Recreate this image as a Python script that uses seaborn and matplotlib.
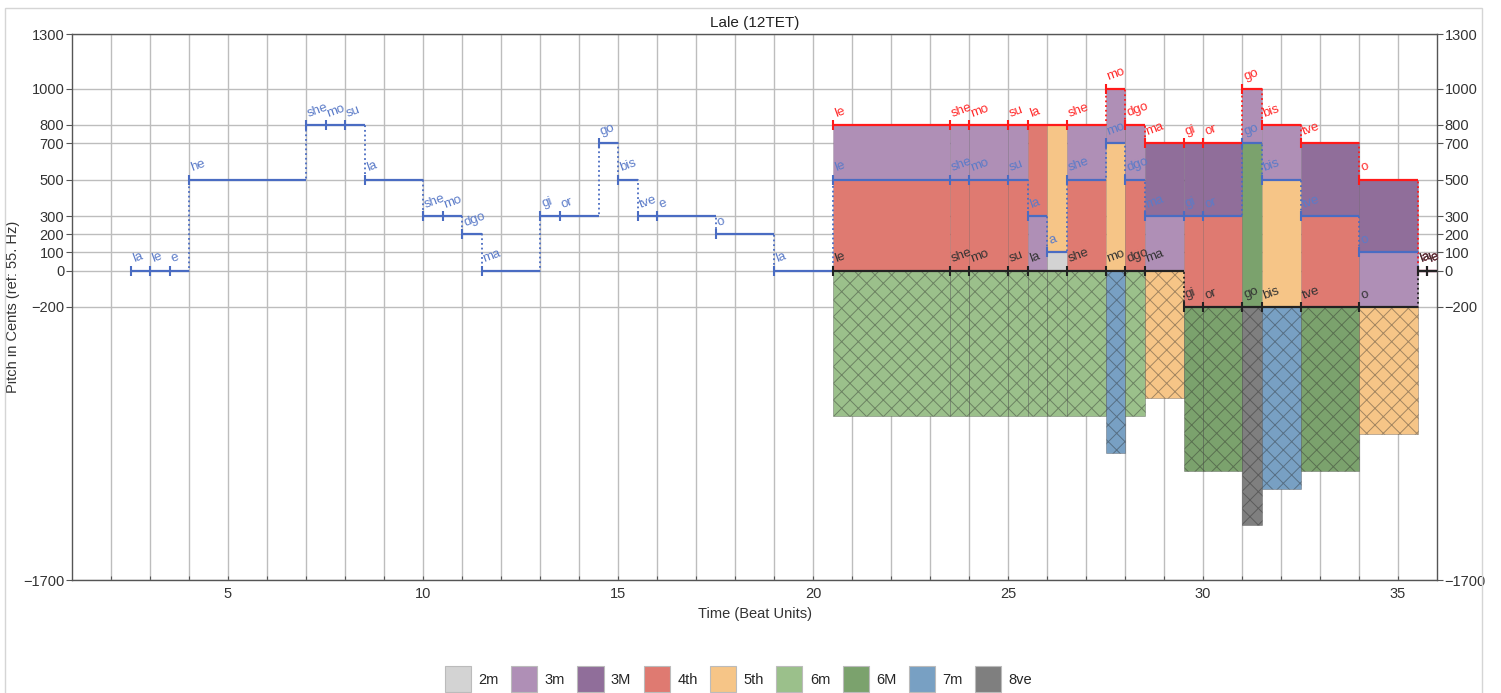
import numpy as np
import matplotlib
matplotlib.use("Agg")
import matplotlib.pyplot as plt
from matplotlib.patches import Patch, Rectangle
import seaborn as sns

# single-voice melody (blue), beats 2.5 - 20.5
mel_syll = ["la", "le", "e", "he", "she", "mo", "su", "la", "she", "mo", "dgo", "ma",
            "gi", "or", "go", "bis", "tve", "e", "o", "la"]
mel_start = [2.5, 3, 3.5, 4, 7, 7.5, 8, 8.5, 10, 10.5, 11, 11.5,
             13, 13.5, 14.5, 15, 15.5, 16, 17.5, 19]
mel_cents = [0, 0, 0, 500, 800, 800, 800, 500, 300, 300, 200, 0,
             300, 300, 700, 500, 300, 300, 200, 0]

# three voices from beat 20.5
top_syll = ["le", "she", "mo", "su", "la", "she", "mo", "dgo", "ma", "gi", "or",
            "go", "bis", "tve", "o", "la", "le"]
top_start = [20.5, 23.5, 24, 25, 25.5, 26.5, 27.5, 28, 28.5, 29.5, 30,
             31, 31.5, 32.5, 34, 35.5, 35.75]
top_cents = [800, 800, 800, 800, 800, 800, 1000, 800, 700, 700, 700,
             1000, 800, 700, 500, 0, 0]

mid_syll = ["le", "she", "mo", "su", "la", "a", "she", "mo", "dgo", "ma", "gi", "or",
            "go", "bis", "tve", "o", "la", "le"]
mid_start = [20.5, 23.5, 24, 25, 25.5, 26, 26.5, 27.5, 28, 28.5, 29.5, 30,
             31, 31.5, 32.5, 34, 35.5, 35.75]
mid_cents = [500, 500, 500, 500, 300, 100, 500, 700, 500, 300, 300, 300,
             700, 500, 300, 100, 0, 0]

low_syll = ["le", "she", "mo", "su", "la", "she", "mo", "dgo", "ma", "gi", "or",
            "go", "bis", "tve", "o", "la", "le"]
low_start = [20.5, 23.5, 24, 25, 25.5, 26.5, 27.5, 28, 28.5, 29.5, 30,
             31, 31.5, 32.5, 34, 35.5, 35.75]
low_cents = [0, 0, 0, 0, 0, 0, 0, 0, 0, -200, -200,
             -200, -200, -200, -200, 0, 0]

end_time = 36

interval_names = ["2m", "3m", "3M", "4th", "5th", "6m", "6M", "7m", "8ve"]
interval_cents = [100, 300, 400, 500, 700, 800, 900, 1000, 1200]
interval_colors = ["#d3d3d3", "#af8fb6", "#906e9a", "#df7a71", "#f6c587",
                   "#9bc08b", "#7ba26d", "#78a0c3", "#7f7f7f"]

y_ticks = [-1700, -200, 0, 100, 200, 300, 500, 700, 800, 1000, 1300]

sns.set_style("white")
plt.rcParams['font.family'] = ['Liberation Sans', 'DejaVu Sans']
plt.rcParams['hatch.linewidth'] = 0.7

W, H = 1501, 693
fig = plt.figure(figsize=(W / 100, H / 100), dpi=100)
ax = fig.add_axes([72 / W, 1 - 580 / H, (1437 - 72) / W, (580 - 34) / H])

col_of = dict(zip(interval_cents, interval_colors))


def pitch_at(starts, cents, t):
    i = np.searchsorted(starts, t, side='right') - 1
    return cents[i]


# interval fills between the voices (hatched = outer interval, drawn downward)
bounds = sorted(set(top_start) | set(mid_start) | set(low_start)) + [end_time]
for b0, b1 in zip(bounds[:-1], bounds[1:]):
    tp = pitch_at(top_start, top_cents, b0)
    mp = pitch_at(mid_start, mid_cents, b0)
    lp = pitch_at(low_start, low_cents, b0)
    for bot, h in [(mp, tp - mp), (lp, mp - lp)]:
        if h > 0:
            ax.bar(b0, h, width=b1 - b0, bottom=bot, align='edge', color=col_of[h],
                   edgecolor=(0, 0, 0, 0.12), linewidth=0.6, zorder=2)
    h = tp - lp
    if h > 0:
        ax.bar(b0, h, width=b1 - b0, bottom=lp - h, align='edge', color=col_of[h],
               edgecolor=(0.15, 0.15, 0.15, 0.4), linewidth=0.5, hatch='xx', zorder=2)


def draw_voice(starts, cents, sylls, color, txt_color):
    ends = starts[1:] + [end_time]
    sns.lineplot(x=starts + [end_time], y=cents + [cents[-1]], drawstyle='steps-post',
                 linestyle=(0, (1, 1.6)), color=color, lw=1.3, ax=ax,
                 estimator=None, sort=False, zorder=3)
    ax.hlines(cents, starts, ends, colors=color, lw=1.6, zorder=4)
    ax.plot(starts, cents, ls='none', marker='|', ms=7, mew=1.5, color=color, zorder=4)
    for s, c, t in zip(starts, cents, sylls):
        ax.annotate(t, (s, c), xytext=(3, 4), textcoords='offset points', rotation=20,
                    rotation_mode='anchor', ha='left', va='bottom', fontsize=9.5,
                    color=txt_color, zorder=5)


blue = "#4a6cc2"
draw_voice(mel_start + mid_start, mel_cents + mid_cents, mel_syll + mid_syll, blue, "#5b7bc8")
draw_voice(top_start, top_cents, top_syll, "#ff1a1a", "#ff2a2a")
draw_voice(low_start, low_cents, low_syll, "#222222", "#333333")

ax.set_xlim(1, 36)
ax.set_ylim(-1700, 1300)
ax.set_yticks(y_ticks)
ax.set_xticks(range(5, 36, 5))
ax.set_xticks(range(2, 36), minor=True)
ax.set_axisbelow(True)
ax.grid(True, which='both', color='#bdbdbd', lw=1.0)

ax.tick_params(axis='y', left=True, right=True, labelleft=True, labelright=True,
               direction='out', length=4, width=0.8, pad=1.5, labelsize=10.5,
               labelcolor='#333333', color='#555555')
ax.tick_params(axis='x', which='both', bottom=True, direction='in', length=3,
               width=0.8, labelsize=10.5, labelcolor='#333333', color='#555555', pad=5)
for sp in ax.spines.values():
    sp.set_color('#555555')
    sp.set_linewidth(1.0)

ax.set_title("Lale (12TET)", fontsize=11, color='#222222', pad=5)
ax.set_xlabel("Time (Beat Units)", fontsize=10.5, color='#333333')
ax.set_ylabel("Pitch in Cents (ref: 55. Hz)", fontsize=10.5, color='#333333')
ax.xaxis.set_label_coords(0.5, -0.05)
ax.yaxis.set_label_coords(-0.038, 0.5)

handles = [Patch(facecolor=c, edgecolor='#bbbbbb', lw=0.8, label=n)
           for n, c in zip(interval_names, interval_colors)]
fig.legend(handles=handles, loc='center', bbox_to_anchor=(0.492, 0.02), ncol=9,
           frameon=False, fontsize=10.5, handlelength=1.8, handleheight=2.3,
           handletextpad=0.5, columnspacing=0.85)

fig.patches.append(Rectangle((5 / W, -0.05), (1482 - 5) / W, 1 - 8 / H + 0.05,
                             transform=fig.transFigure, fill=False,
                             edgecolor='#d5d5d5', lw=1))

fig.savefig("out.png", dpi=100)
